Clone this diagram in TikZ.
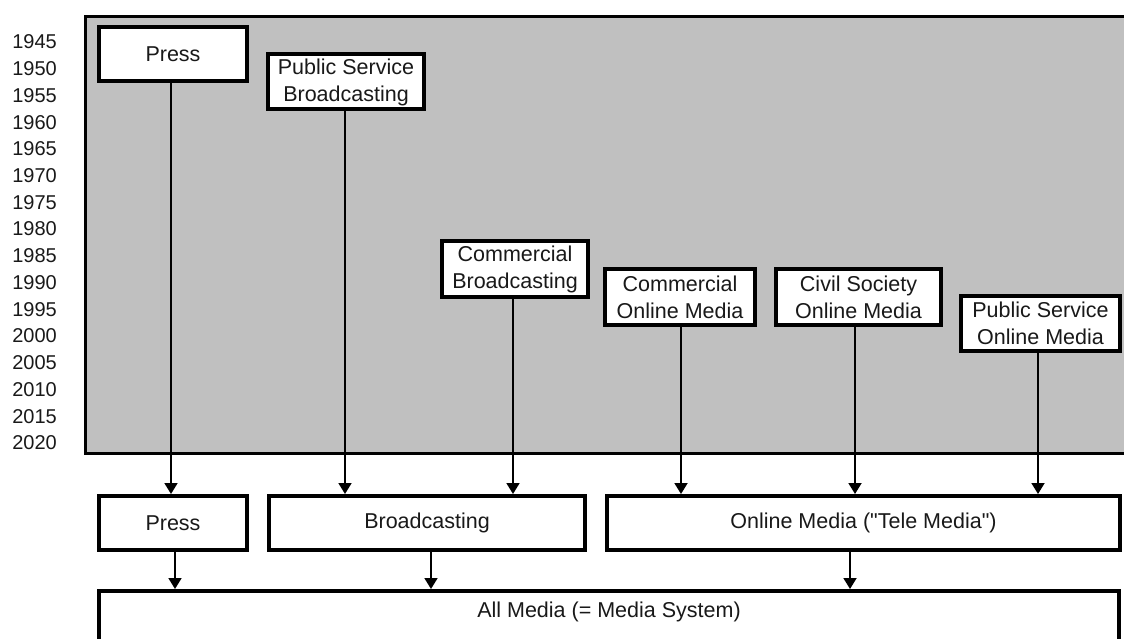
\documentclass[tikz,border=0pt]{standalone}
\usepackage{fontspec}
\setmainfont{Liberation Sans}
\usetikzlibrary{arrows.meta}
\begin{document}
\begin{tikzpicture}[x=1pt,y=-1pt,
  every node/.style={font=\fontsize{21.5}{27}\selectfont, text=black!90},
  mbox/.style={draw=black, line width=4pt, fill=white, inner sep=0pt, align=center},
  feed/.style={line width=1.8pt, -{Triangle[width=13pt,length=11pt]}},
  yearlabel/.style={anchor=east, inner sep=0pt, font=\fontsize{20}{24}\selectfont}]
  \useasboundingbox (0,0) rectangle (1124,639);

  % timeline panel (open to the right)
  \draw[line width=3pt, fill={rgb,255:red,192;green,192;blue,192}]
    (1160,16.5) -- (85.5,16.5) -- (85.5,453.5) -- (1160,453.5);

  % year scale
  \foreach \yr [count=\i from 0] in {1945,1950,1955,1960,1965,1970,1975,1980,1985,1990,1995,2000,2005,2010,2015,2020}
    \node[yearlabel] (y\yr) at (57,{42+26.73*\i}) {\yr};

  % media types, placed at the year they appear
  \node[mbox, minimum width=148pt, minimum height=54pt] (pressT) at (173,54) {Press};
  \node[mbox, minimum width=156pt, minimum height=55pt] (psb) at (346,82) {Public Service\\Broadcasting};
  \node[mbox, minimum width=146pt, minimum height=56pt] (comb) at (515,269) {Commercial\\Broadcasting};
  \node[mbox, minimum width=150pt, minimum height=56pt] (como) at (680,297) {Commercial\\Online Media};
  \node[mbox, minimum width=165pt, minimum height=56pt] (civil) at (858.5,297) {Civil Society\\Online Media};
  \node[mbox, minimum width=159pt, minimum height=55pt] (pso) at (1040.5,323.5) {Public Service\\Online Media};

  % media sectors
  \node[mbox, minimum width=148pt, minimum height=54pt] (pressB) at (173,523) {Press};
  \node[mbox, minimum width=316pt, minimum height=54pt] (bcast) at (427,523) {Broadcasting};
  \node[mbox, minimum width=513pt, minimum height=54pt] (online) at (863.5,523) {Online Media (\textquotedbl Tele Media\textquotedbl)};

  % whole media system (open at the bottom)
  \node[mbox, minimum width=1020pt, minimum height=90pt] (allmedia) at (609,636) {};
  \node (alltext) at (609,612) {All Media (= Media System)};

  % connectors
  \draw[feed] ([xshift=-2pt]pressT.south) -- ([xshift=-2pt]pressT.south |- pressB.north);
  \draw[feed] ([xshift=-1pt]psb.south) -- ([xshift=-1pt]psb.south |- bcast.north);
  \draw[feed] ([xshift=-2pt]comb.south) -- ([xshift=-2pt]comb.south |- bcast.north);
  \draw[feed] ([xshift=1pt]como.south) -- ([xshift=1pt]como.south |- online.north);
  \draw[feed] ([xshift=-3.5pt]civil.south) -- ([xshift=-3.5pt]civil.south |- online.north);
  \draw[feed] ([xshift=-2.5pt]pso.south) -- ([xshift=-2.5pt]pso.south |- online.north);

  \draw[feed] ([xshift=2pt]pressB.south) -- ([xshift=2pt]pressB.south |- allmedia.north);
  \draw[feed] ([xshift=4pt]bcast.south) -- ([xshift=4pt]bcast.south |- allmedia.north);
  \draw[feed] ([xshift=-13.5pt]online.south) -- ([xshift=-13.5pt]online.south |- allmedia.north);
\end{tikzpicture}
\end{document}
